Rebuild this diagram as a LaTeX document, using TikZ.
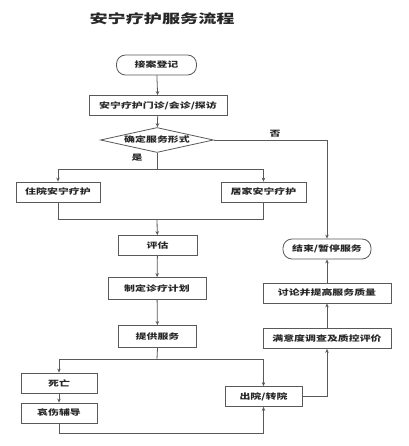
\documentclass[tikz,border=0pt]{standalone}
\usepackage{fontspec}
\setmainfont{Noto Sans CJK SC}
\newfontfamily\cjk[FakeStretch=1.4]{Noto Sans CJK SC}
\newfontfamily\cjkt[FakeStretch=1.45]{Noto Sans CJK SC}
\usetikzlibrary{arrows.meta,shapes.geometric}
\begin{document}
\begin{tikzpicture}[x=1pt,y=-1pt,
  font=\cjk\bfseries\fontsize{7.8}{9}\selectfont,
  line/.style={draw=black!65,line width=0.8pt},
  arr/.style={line,-{Stealth[length=4pt,width=3.5pt]}},
  boxn/.style={draw=black!65,line width=0.8pt,minimum height=20pt,inner sep=0pt,fill=white,text=black!85},
  roundn/.style={boxn,rounded corners=9pt}]
\useasboundingbox (0,0) rectangle (408,446);
\node[font=\cjkt\bfseries\fontsize{12.5}{15}\selectfont,text=black!85] (title) at (162,19) {安宁疗护服务流程};
\node[roundn,minimum width=80pt] (start) at (156.5,65) {接案登记};
\node[boxn,minimum width=138pt] (visit) at (158,105.5) {安宁疗护门诊/会诊/探访};
\node[diamond,draw=black!65,line width=0.8pt,aspect=4.5,minimum width=113pt,minimum height=25pt,inner sep=0pt,text=black!85] (dec) at (157,140) {确定服务形式};
\node[boxn,minimum width=84pt] (inp) at (58,192) {住院安宁疗护};
\node[boxn,minimum width=85pt] (home) at (263.5,192) {居家安宁疗护};
\node[boxn,minimum width=79pt] (eval) at (157.5,245.5) {评估};
\node[boxn,minimum width=98pt,minimum height=22pt] (plan) at (157,288.5) {制定诊疗计划};
\node[boxn,minimum width=78pt,minimum height=22pt] (serv) at (157.5,336.5) {提供服务};
\node[boxn,minimum width=76pt] (death) at (59,383) {死亡};
\node[boxn,minimum width=76pt] (grief) at (59,413) {哀伤辅导};
\node[boxn,minimum width=77pt] (disc) at (263.5,396.5) {出院/转院};
\node[roundn,minimum width=88pt] (stop) at (327,249) {结束/暂停服务};
\node[boxn,minimum width=128pt] (impr) at (327,293) {讨论并提高服务质量};
\node[boxn,minimum width=128pt] (surv) at (327,338.5) {满意度调查及质控评价};
\coordinate (b1) at (157,169);
\coordinate (b2) at (157,219);
\coordinate (b3) at (157,359);
\coordinate (b4) at (157,433.5);
\draw[arr] (start) -- (visit);
\draw[arr] (visit) -- (dec);
\draw[line] (dec.south) -- (b1);
\draw[arr] (b1) -| (inp.north);
\draw[arr] (b1) -| (home.north);
\node[text=black!85] (yes) at (137,158) {是};
\draw[line] (inp.south) |- (b2);
\draw[line] (home.south) |- (b2);
\draw[arr] (b2) -- (eval);
\draw[arr] (eval) -- (plan);
\draw[arr] (plan) -- (serv);
\draw[line] (serv.south) -- (b3);
\draw[arr] (b3) -| (death.north);
\draw[arr] (b3) -| (disc.north);
\draw[arr] (death) -- (grief);
\draw[line] (grief.south) |- (b4);
\draw[arr] (b4) -| (disc.south);
\draw[arr] (dec.east) -| (stop.north);
\node[text=black!85] (no) at (275,134) {否};
\draw[arr] (disc.east) -| (surv.south);
\draw[arr] (surv) -- (impr);
\draw[arr] (impr) -- (stop);
\end{tikzpicture}
\end{document}
